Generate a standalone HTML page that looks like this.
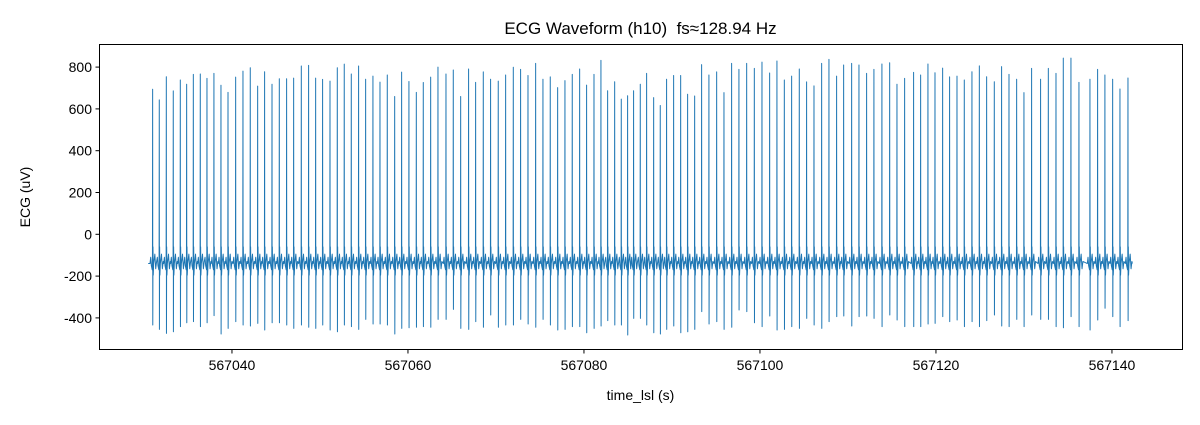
<!DOCTYPE html>
<html><head><meta charset="utf-8"><style>
body{margin:0;background:#fff;}
svg text{font-family:"Liberation Sans","DejaVu Sans",sans-serif;fill:#000;}
</style></head><body>
<svg id="chart" width="1200" height="420" viewBox="0 0 1200 420" xmlns="http://www.w3.org/2000/svg">
<rect x="0" y="0" width="1200" height="420" fill="#fff"/>
<text x="640.5" y="34" font-size="17" text-anchor="middle" style="white-space:pre">ECG Waveform (h10)&#160; fs≈128.94 Hz</text>
<g id="plot"></g>
<rect x="99.5" y="44.5" width="1083" height="305" fill="none" stroke="#000" stroke-width="1"/>
<g id="xticks"></g>
<g id="yticks"></g>
<text x="640.5" y="400" font-size="14" text-anchor="middle">time_lsl (s)</text>
<text x="30" y="197" font-size="14" text-anchor="middle" transform="rotate(-90 30 197)">ECG (uV)</text>
</svg>
<script>
const T0 = 567030;
const beatTimes = [0.985,1.74,2.54,3.33,4.13,4.85,5.61,6.40,7.16,7.95,8.75,9.55,10.42,11.25,12.08,12.92,13.71,14.55,15.38,16.21,17.01,17.88,18.71,19.51,20.30,21.14,21.97,22.76,23.56,24.39,25.19,26.02,26.82,27.65,28.49,29.28,30.11,30.95,31.74,32.58,33.41,34.32,35.15,35.99,36.89,
37.69,38.56,39.39,40.26,41.10,41.97,42.80,43.64,44.51,45.34,46.17,47.01,47.84,48.67,49.51,50.30,51.14,51.93,52.69,53.49,54.24,54.96,55.64,56.40,57.12,57.92,58.67,59.39,60.19,60.99,61.78,62.58,63.37,64.20,65.08,65.91,66.78,67.61,68.49,69.36,70.23,71.10,71.93,72.77,73.60,74.47,
75.30,76.14,77.01,77.84,78.71,79.51,80.42,81.25,82.12,82.95,83.86,84.74,85.57,86.44,87.46,88.26,89.09,89.89,90.76,91.55,92.39,93.22,94.09,94.93,95.76,96.63,97.46,98.30,99.17,100.0,100.87,101.89,102.77,103.64,104.47,105.34,106.25,107.50,108.37,109.20,110.08,110.91,111.82];
const rPeaks = [694,643,754,686,738,718,765,767,746,770,713,679,752,781,797,709,778,718,744,744,747,805,808,747,741,733,797,814,767,805,742,757,728,762,659,776,731,679,726,752,800,767,786,659,791,
727,777,742,733,762,799,789,760,818,742,753,702,735,765,791,714,765,832,687,730,647,663,687,718,770,654,616,742,760,760,670,662,812,762,777,678,818,789,818,794,824,772,829,738,757,791,
729,710,818,837,757,810,818,810,770,789,815,821,718,746,775,762,815,773,795,753,757,738,778,806,754,730,802,765,742,678,794,742,794,770,843,843,727,742,789,762,742,695,748];
const sTroughs = [-434,-455,-474,-466,-442,-423,-418,-442,-423,-389,-477,-450,-418,-434,-439,-426,-458,-423,-423,-434,-450,-434,-445,-450,-434,-458,-466,-434,-442,-455,-407,-429,-429,-434,-477,-450,-447,-445,-442,-445,-407,-407,-359,-450,-455,
-418,-445,-386,-445,-434,-434,-407,-429,-445,-407,-434,-458,-455,-442,-442,-471,-450,-439,-413,-434,-434,-482,-402,-402,-434,-471,-477,-455,-439,-471,-466,-455,-370,-429,-418,-455,-445,-362,-370,-423,-442,-391,-458,-455,-442,-450,
-402,-434,-450,-418,-394,-391,-439,-394,-391,-402,-442,-386,-410,-442,-442,-442,-429,-426,-394,-418,-410,-442,-418,-442,-413,-386,-439,-442,-407,-442,-386,-407,-407,-442,-447,-394,-442,-458,-410,-354,-394,-442,-413];
const xTicks = [567040,567060,567080,567100,567120,567140];
const yTicks = [-400,-200,0,200,400,600,800];

const AX = {x0:99, x1:1182, y0:44, y1:349};
const xMin = 567024.89, xMax = 567147.96, yMin = -548.8, yMax = 910.5;
function xs(t){ return AX.x0 + (t - xMin)/(xMax - xMin)*(AX.x1-AX.x0); }
function ys(v){ return AX.y1 - (v - yMin)/(yMax - yMin)*(AX.y1-AX.y0); }
const NS = "http://www.w3.org/2000/svg";

const tmpl = [[-0.30,-140],[-0.22,-110],[-0.15,-150],[-0.05,-170],[-0.02,-100],[0,'R'],[0.016,'S'],[0.04,-60],[0.07,-195],[0.12,-140],[0.25,-95],[0.35,-165],[0.45,-130]];
let pts = [[xs(T0+0.48),ys(-140)]];
for(let i=0;i<beatTimes.length;i++){
  const bt = T0 + beatTimes[i];
  const next = i+1<beatTimes.length ? T0+beatTimes[i+1] : Infinity;
  const prev = i>0 ? T0+beatTimes[i-1] : -Infinity;
  for(const [dt,v] of tmpl){
    const t = bt+dt;
    if(dt<0 && t<=prev+0.46) continue;
    if(dt>0 && t>=next-0.30) continue;
    let val = v==='R' ? rPeaks[i] : v==='S' ? sTroughs[i] : v;
    pts.push([xs(t), ys(val)]);
  }
}
pts.push([xs(T0+beatTimes[beatTimes.length-1]+0.5),ys(-140)]);
const line = document.createElementNS(NS,'polyline');


line.setAttribute('points', pts.map(p=>p[0].toFixed(2)+','+p[1].toFixed(2)).join(' '));
line.setAttribute('fill','none');
line.setAttribute('stroke','#1f77b4');
line.setAttribute('stroke-width','1');
line.setAttribute('stroke-linejoin','round');
document.getElementById('plot').appendChild(line);

const xg = document.getElementById('xticks');
for(const t of xTicks){
  const x = xs(t);
  const tk = document.createElementNS(NS,'line');
  
  
  tk.setAttribute('x1',x);tk.setAttribute('x2',x);tk.setAttribute('y1',349.5);tk.setAttribute('y2',353.5);
  tk.setAttribute('stroke','#000');
  xg.appendChild(tk);
  const tx = document.createElementNS(NS,'text');
  
  
  tx.setAttribute('x',x);tx.setAttribute('y',370);tx.setAttribute('font-size','14');tx.setAttribute('text-anchor','middle');
  tx.textContent = t;
  xg.appendChild(tx);
}
const yg = document.getElementById('yticks');
for(const v of yTicks){
  const y = ys(v);
  const tk = document.createElementNS(NS,'line');
  
  
  tk.setAttribute('x1',95.5);tk.setAttribute('x2',99.5);tk.setAttribute('y1',y);tk.setAttribute('y2',y);
  tk.setAttribute('stroke','#000');
  yg.appendChild(tk);
  const tx = document.createElementNS(NS,'text');
  
  
  tx.setAttribute('x',92);tx.setAttribute('y',y+5);tx.setAttribute('font-size','14');tx.setAttribute('text-anchor','end');
  tx.textContent = v;
  yg.appendChild(tx);
}
</script>
</body></html>
